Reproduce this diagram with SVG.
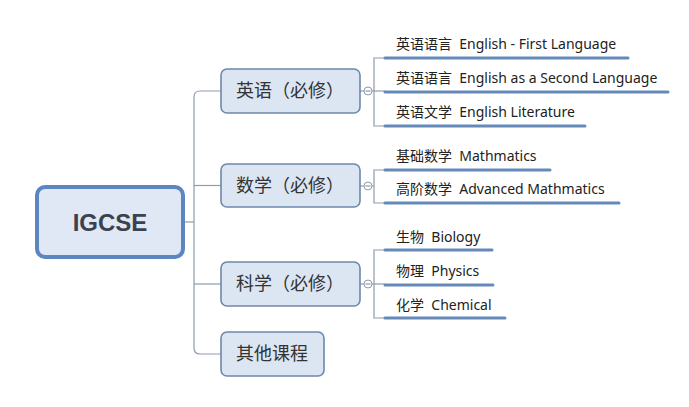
<svg xmlns="http://www.w3.org/2000/svg" width="689" height="407" viewBox="0 0 689 407">
<style>
.root{fill:#dfe8f4;stroke:#5b86bf;stroke-width:4}
.mid{fill:#dce6f3;stroke:#6d88aa;stroke-width:1.6}
.con{fill:none;stroke:#8e9cab;stroke-width:1.2}
.ul{stroke:#6589b8;stroke-width:3;stroke-linecap:round}
.tog{fill:#fff;stroke:#8e9cab;stroke-width:1}
.t1{font-family:"Liberation Sans","DejaVu Sans",sans-serif;font-weight:bold;font-size:24px;fill:#3a4250}
.t2{font-family:"Noto Sans CJK SC",sans-serif;font-size:18px;fill:#333}
.t3{font-family:"Noto Sans","Noto Sans CJK SC",sans-serif;font-size:14px;fill:#222;white-space:pre}
</style>
<rect width="689" height="407" fill="#fff"/>
<g id="connectors">
<line class="con" x1="185" y1="222" x2="194" y2="222"/>
<path class="con" d="M221 91 H200 Q194 91 194 97 V348 Q194 354 200 354 H221"/>
<line class="con" x1="194" y1="185.5" x2="221" y2="185.5"/>
<line class="con" x1="194" y1="284" x2="221" y2="284"/>
<line class="con" x1="360" y1="91" x2="364" y2="91"/>
<line class="con" x1="372" y1="91" x2="385" y2="91"/>
<path class="con" d="M385 58 H374 V126 H385"/>
<line class="con" x1="360" y1="186" x2="364" y2="186"/>
<line class="con" x1="372" y1="186" x2="374" y2="186"/>
<path class="con" d="M385 170 H374 V203 H385"/>
<line class="con" x1="360" y1="284" x2="364" y2="284"/>
<line class="con" x1="372" y1="284" x2="385" y2="284"/>
<path class="con" d="M385 250 H374 V318 H385"/>
<circle class="tog" cx="368" cy="91" r="4"/>
<line class="con" x1="365.5" y1="91" x2="370.5" y2="91"/>
<circle class="tog" cx="368" cy="186" r="4"/>
<line class="con" x1="365.5" y1="186" x2="370.5" y2="186"/>
<circle class="tog" cx="368" cy="284" r="4"/>
<line class="con" x1="365.5" y1="284" x2="370.5" y2="284"/>
</g>
<g id="igcse">
<rect class="root" x="37" y="187" width="146" height="70" rx="8"/>
<text class="t1" x="110" y="231" text-anchor="middle">IGCSE</text>
</g>
<g id="english">
<rect class="mid" x="221" y="69" width="139" height="44" rx="6"/>
<text class="t2" x="236" y="97">英语（必修）</text>
</g>
<g id="math">
<rect class="mid" x="221" y="164" width="139" height="43" rx="6"/>
<text class="t2" x="236" y="192">数学（必修）</text>
</g>
<g id="science">
<rect class="mid" x="221" y="262" width="139" height="44" rx="6"/>
<text class="t2" x="236" y="290">科学（必修）</text>
</g>
<g id="other">
<rect class="mid" x="221" y="332" width="103" height="44" rx="6"/>
<text class="t2" x="236" y="360">其他课程</text>
</g>
<g id="leaf-e1"><line class="ul" x1="385" y1="58" x2="628" y2="58"/><text class="t3" x="396" y="49" xml:space="preserve">英语语言  English - First Language</text></g>
<g id="leaf-e2"><line class="ul" x1="385" y1="92" x2="668" y2="92"/><text class="t3" x="396" y="83" xml:space="preserve">英语语言  English as a Second Language</text></g>
<g id="leaf-e3"><line class="ul" x1="385" y1="126" x2="585" y2="126"/><text class="t3" x="396" y="117" xml:space="preserve">英语文学  English Literature</text></g>
<g id="leaf-m1"><line class="ul" x1="385" y1="170" x2="550" y2="170"/><text class="t3" x="396" y="161" xml:space="preserve">基础数学  Mathmatics</text></g>
<g id="leaf-m2"><line class="ul" x1="385" y1="203" x2="619" y2="203"/><text class="t3" x="396" y="194" xml:space="preserve">高阶数学  Advanced Mathmatics</text></g>
<g id="leaf-s1"><line class="ul" x1="385" y1="250" x2="492" y2="250"/><text class="t3" x="396" y="242" xml:space="preserve">生物  Biology</text></g>
<g id="leaf-s2"><line class="ul" x1="385" y1="285" x2="493" y2="285"/><text class="t3" x="396" y="276" xml:space="preserve">物理  Physics</text></g>
<g id="leaf-s3"><line class="ul" x1="385" y1="318" x2="505" y2="318"/><text class="t3" x="396" y="310" xml:space="preserve">化学  Chemical</text></g>
</svg>
